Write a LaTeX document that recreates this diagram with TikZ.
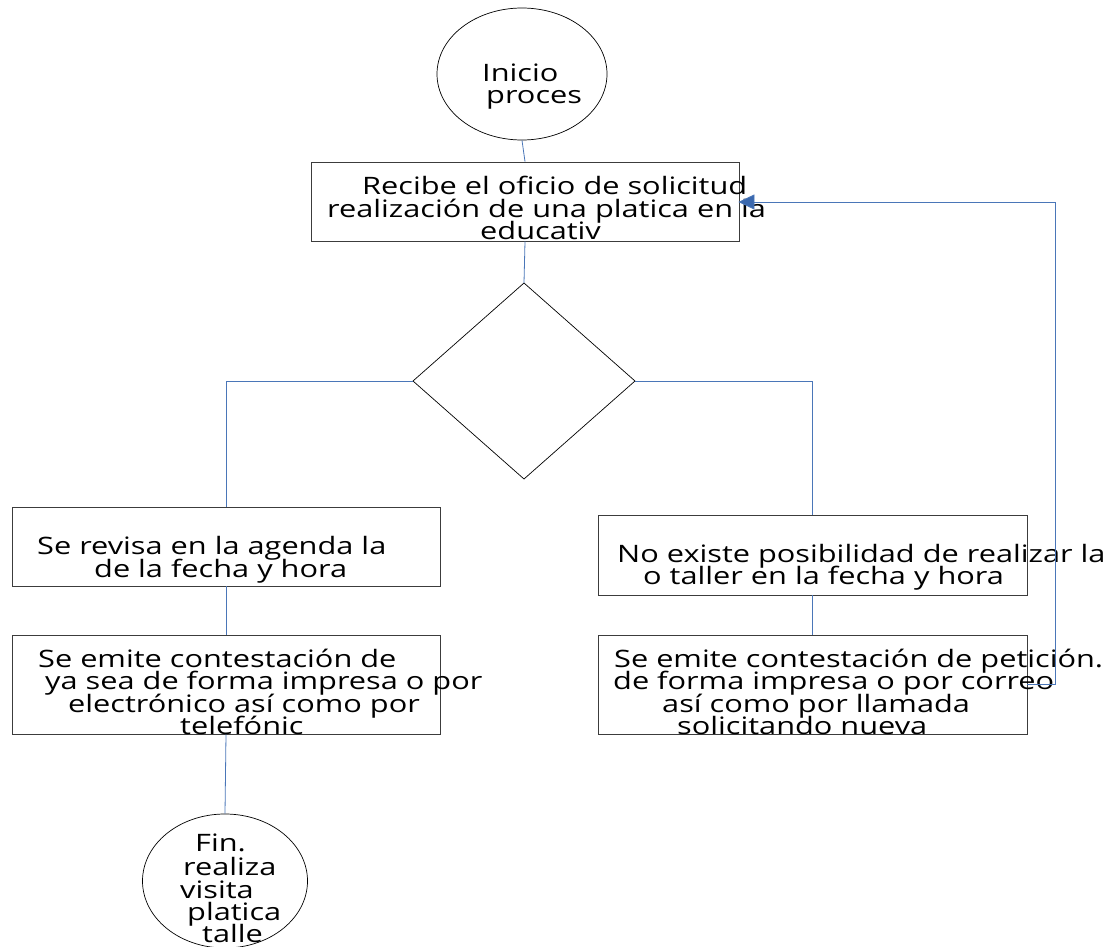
\documentclass[tikz,border=0pt]{standalone}
\usepackage{fontspec}
\setmainfont[FakeStretch=1.28]{Open Sans}
\usetikzlibrary{arrows.meta,shapes.geometric}
\definecolor{conn}{HTML}{4A76B8}
\definecolor{tip}{HTML}{3A68AE}
\definecolor{boxc}{HTML}{3C3C3C}
\tikzset{
  box/.style={draw=boxc, line width=0.8pt, minimum width=#1, inner sep=0pt},
  txt/.style={anchor=base west, inner sep=0pt, font=\fontsize{24}{22}\selectfont},
  conline/.style={draw=conn, line width=0.8pt},
  term/.style={draw=black, line width=0.7pt, ellipse, inner sep=0pt}
}
\begin{document}
\begin{tikzpicture}[x=1pt,y=-1pt]
\useasboundingbox (0,0) rectangle (1117,947);
% shapes
\node[term, minimum width=170, minimum height=132] (start) at (522,74) {};
\node[box=428, minimum height=79] (b1) at (525,201.5) {};
\coordinate (dt) at (524,283);
\coordinate (dl) at (413,381);
\coordinate (dr) at (635,381);
\coordinate (db) at (524,479);
\draw[black, line width=0.7pt] (dt) -- (dr) -- (db) -- (dl) -- cycle;
\node[box=428, minimum height=79] (b2) at (226,546.5) {};
\node[box=428, minimum height=99] (b3) at (226,684.5) {};
\node[term, minimum width=165, minimum height=134] (fin) at (225,881) {};
\node[box=429, minimum height=80] (b4) at (812.5,555) {};
\node[box=429, minimum height=99] (b5) at (812.5,684.5) {};
% connectors
\draw[conline] (start.south) -- (b1.north);
\draw[conline] (b1.south) -- (dt);
\draw[conline] (dl) -- (b2.north |- dl) -- (b2.north);
\draw[conline] (dr) -- (b4.north |- dr) -- (b4.north);
\draw[conline] (b2.south) -- (b3.north);
\draw[conline] (b3.south) -- (fin.north);
\draw[conline] (b4.south) -- (b5.north);
% texts
\node[txt] (t0a) at (482,82) {Inicio};
\node[txt] (t0b) at (486,104) {proces};
\node[txt] (t1a) at (362,195) {Recibe el oficio de solicitud};
\node[txt] (t1b) at (327,218) {realización de una platica en la};
\node[txt] (t1c) at (480,240) {educativ};
\node[txt] (t2a) at (37,554) {Se revisa en la agenda la};
\node[txt] (t2b) at (94,577) {de la fecha y hora};
\node[txt] (t3a) at (38,667) {Se emite contestación de};
\node[txt] (t3b) at (45,689) {ya sea de forma impresa o por};
\node[txt] (t3c) at (68,712) {electrónico así como por};
\node[txt] (t3d) at (180,734) {telefónic};
\node[txt] (t4a) at (617,562) {No existe posibilidad de realizar la};
\node[txt] (t4b) at (643,584) {o taller en la fecha y hora};
\node[txt] (t5a) at (614,667) {Se emite contestación de petición.};
\node[txt] (t5b) at (613,689) {de forma impresa o por correo};
\node[txt] (t5c) at (662,712) {así como por llamada};
\node[txt] (t5d) at (677,734) {solicitando nueva};
\node[txt] (t6a) at (195,851) {Fin.};
\node[txt] (t6b) at (183,875) {realiza};
\node[txt] (t6c) at (180,898) {visita};
\node[txt] (t6d) at (187,920) {platica};
\node[txt] (t6e) at (202,942) {talle};
% feedback connector
\coordinate (fbA) at (1055,684);
\coordinate (fbB) at (1055,202);
\draw[conline, -{Triangle[length=16pt,width=15pt,fill=tip]}, shorten >=-1pt] (b5.east |- fbA) -- (fbA) -- (fbB) -- (b1.east |- fbB);
\end{tikzpicture}
\end{document}
